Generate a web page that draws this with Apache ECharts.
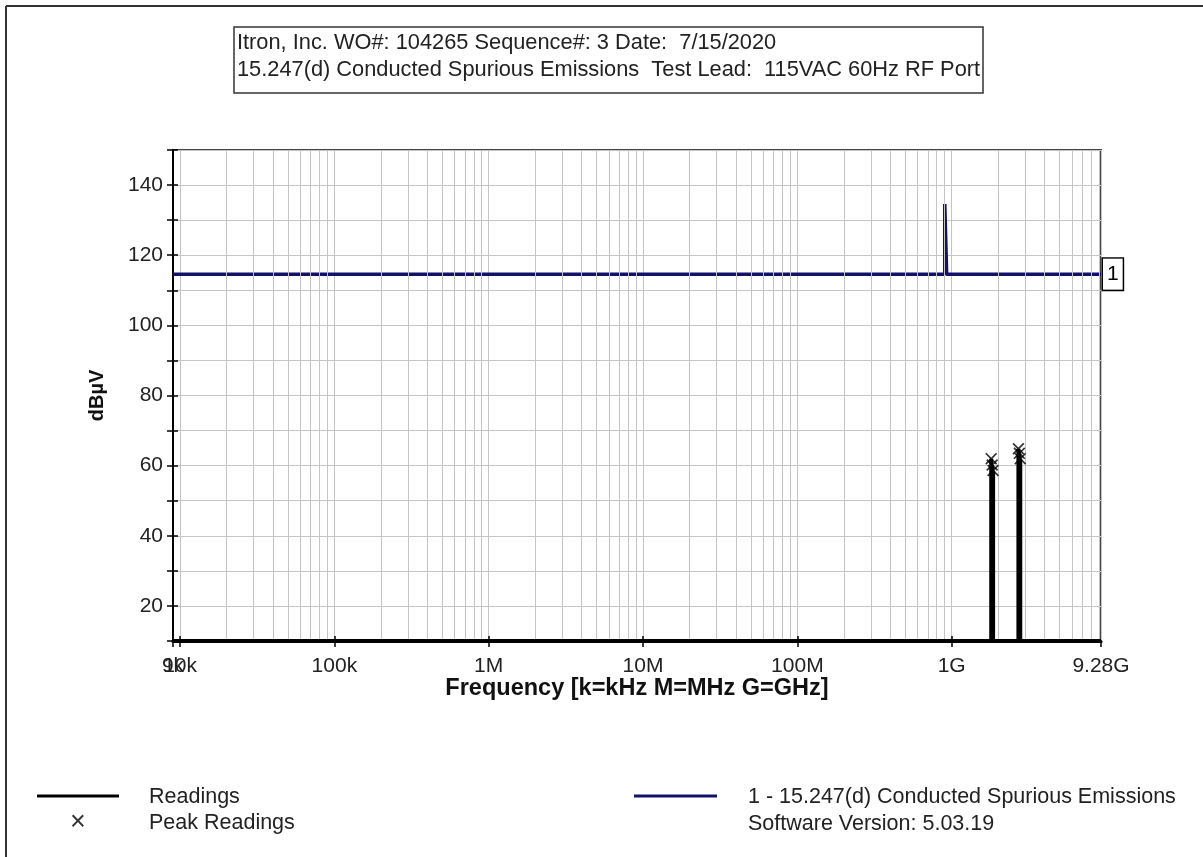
<!DOCTYPE html>
<html><head><meta charset="utf-8">
<script src="https://cdn.jsdelivr.net/npm/echarts@6/dist/echarts.min.js"></script>
<style>html,body{margin:0;padding:0;background:#fff}#c{width:1203px;height:857px}</style>
</head><body><div id="c"></div>
<script>
// ---- data ----
const titleLines = ['Itron, Inc. WO#: 104265 Sequence#: 3 Date:  7/15/2020',
                    '15.247(d) Conducted Spurious Emissions  Test Lead:  115VAC 60Hz RF Port'];
const xTickFreqs  = [9e3, 1e4, 1e5, 1e6, 1e7, 1e8, 1e9, 9.28e9];
const xTickLabels = ['9k', '10k', '100k', '1M', '10M', '100M', '1G', '9.28G'];
const yMin = 10, yMax = 150, yStep = 10;
const limitFreqs  = [9e3, 902e6, 902e6, 928e6, 928e6, 9.28e9];
const limitLevels = [114.6, 114.6, 134.6, 134.6, 114.6, 114.6];
const readingFreqs  = [1.804e9, 1.830e9, 1.855e9, 2.706e9, 2.745e9, 2.782e9];
const readingLevels = [62.0, 60.2, 58.6, 64.8, 63.5, 62.0];
const floorLevel = 10;
const legendNames = ['Readings', 'Peak Readings', '1 - 15.247(d) Conducted Spurious Emissions', 'Software Version: 5.03.19'];

// ---- build ----
const FONT = '"Liberation Sans", Arial, sans-serif';
const TXT = '#222';
const GRIDC = '#c4c4c4';
const NAVY = '#12126a';

const limitData = limitFreqs.map((f, i) => [f, limitLevels[i]]);
const readingsLine = [[xTickFreqs[0], floorLevel]];
readingFreqs.forEach((f, i) => { readingsLine.push([f, floorLevel], [f, readingLevels[i]], [f, floorLevel]); });
readingsLine.push([xTickFreqs[xTickFreqs.length - 1], floorLevel]);
const peakData = readingFreqs.map((f, i) => [f, readingLevels[i]]);

// minor log grid lines (2..9 x each decade)
const xMinV = xTickFreqs[0], xMaxV = xTickFreqs[xTickFreqs.length - 1];
const minorLines = [];
for (let d = 1e3; d <= 1e9; d *= 10) {
  for (let m = 2; m <= 9; m++) {
    const v = d * m;
    if (v > xMinV && v < xMaxV) minorLines.push({ xAxis: v });
  }
}

function labelIndex(v) {
  let best = 0, bd = Infinity;
  xTickFreqs.forEach((f, i) => { const d = Math.abs(Math.log10(f) - Math.log10(v)); if (d < bd) { bd = d; best = i; } });
  return bd < 0.01 ? best : -1;
}
// main axis: every label except 10k (which the second axis draws, overlapping like the original)
function xLabel(v) { const i = labelIndex(v); return (i < 0 || i === 1) ? '' : xTickLabels[i]; }
function xLabel2(v) { const i = labelIndex(v); return i === 1 ? xTickLabels[1] : ''; }

const axisFont = { fontFamily: FONT, fontSize: 21, color: TXT };

const chart = echarts.init(document.getElementById('c'), null, { renderer: 'canvas' });
chart.setOption({
  animation: false,
  backgroundColor: '#fff',
  title: {
    text: titleLines.join('\n'),
    left: 234, top: 27,
    padding: [2, 3, 10, 3],
    borderColor: '#333', borderWidth: 1.5,
    textStyle: { fontFamily: FONT, fontSize: 21.8, fontWeight: 'normal', color: TXT, lineHeight: 27 }
  },
  grid: { left: 173, right: 102, top: 150, bottom: 216, show: true, borderColor: '#444', borderWidth: 2 },
  xAxis: [{
    type: 'log', logBase: 10, min: xMinV, max: xMaxV, splitNumber: 6,
    name: 'Frequency [k=kHz M=MHz G=GHz]', nameLocation: 'middle', nameGap: 36, nameMoveOverlap: false,
    nameTextStyle: { fontFamily: FONT, fontSize: 23.5, fontWeight: 'bold', color: '#111' },
    axisLine: { show: true, onZero: false, lineStyle: { color: '#000', width: 3 } },
    axisTick: { show: true, length: 6, lineStyle: { color: '#000', width: 1.5 } },
    axisLabel: Object.assign({ margin: 15, formatter: xLabel, showMinLabel: true, showMaxLabel: true, hideOverlap: false }, axisFont),
    splitLine: { show: true, lineStyle: { color: GRIDC, width: 1 } },
    minorTick: { show: false }, minorSplitLine: { show: false }
  }, {
    type: 'log', logBase: 10, min: xMinV, max: xMaxV, splitNumber: 6, position: 'bottom', gridIndex: 0,
    axisLine: { show: false }, axisTick: { show: true, inside: true, length: 5, lineStyle: { color: '#000', width: 1.5 } },
    axisLabel: Object.assign({ margin: 15, formatter: xLabel2, showMinLabel: false, showMaxLabel: false, hideOverlap: false }, axisFont),
    splitLine: { show: false }
  }],
  yAxis: [{
    type: 'value', min: yMin, max: yMax, interval: yStep,
    name: 'dBµV', nameLocation: 'middle', nameGap: 66, nameRotate: 90, nameMoveOverlap: false,
    nameTextStyle: { fontFamily: FONT, fontSize: 20, fontWeight: 'bold', color: '#111' },
    axisLine: { show: true, lineStyle: { color: '#000', width: 2 } },
    axisTick: { show: true, length: 6, lineStyle: { color: '#000', width: 1.5 } },
    axisLabel: Object.assign({ margin: 10,
      formatter: v => (v % 20 === 0 && v !== yMin && v !== yMax) ? String(v) : '' }, axisFont),
    splitLine: { show: true, lineStyle: { color: GRIDC, width: 1 } }
  }, {
    type: 'value', min: yMin, max: yMax, interval: yStep, position: 'left', gridIndex: 0,
    axisLine: { show: false }, axisTick: { show: true, inside: true, length: 5, lineStyle: { color: '#000', width: 1.5 } },
    axisLabel: { show: false }, splitLine: { show: false }
  }],
  series: [
    {
      name: 'grid', type: 'line', data: [], z: 1, silent: true,
      markLine: { silent: true, symbol: ['none', 'none'], label: { show: false },
        lineStyle: { color: GRIDC, width: 1, type: 'solid' }, emphasis: { disabled: true }, data: minorLines }
    },
    {
      name: legendNames[2], type: 'line', data: limitData, showSymbol: false, z: 4,
      lineStyle: { color: NAVY, width: 3.5 }, itemStyle: { color: NAVY },
      endLabel: { show: true, formatter: '1', fontFamily: FONT, fontSize: 21, color: '#000',
        backgroundColor: '#fff', borderColor: '#000', borderWidth: 1.5, padding: [6, 4, 4, 4], distance: 2 }
    },
    {
      name: legendNames[0], type: 'line', data: readingsLine, showSymbol: false, z: 5, clip: true,
      lineStyle: { color: '#000', width: 4 }, itemStyle: { color: '#000' }
    },
    {
      name: legendNames[1], type: 'scatter', data: peakData, z: 6,
      symbol: 'path://M0,1L1,0L5,4L9,0L10,1L6,5L10,9L9,10L5,6L1,10L0,9L4,5Z', symbolSize: 12,
      itemStyle: { color: '#000' }
    }
  ],
  graphic: [
    { type: 'line', shape: { x1: 6, y1: 6, x2: 1203, y2: 6 }, style: { stroke: '#333', lineWidth: 2 }, silent: true },
    { type: 'line', shape: { x1: 6, y1: 6, x2: 6, y2: 857 }, style: { stroke: '#333', lineWidth: 2 }, silent: true },
    { type: 'line', shape: { x1: 37, y1: 796, x2: 119, y2: 796 }, style: { stroke: '#000', lineWidth: 3 }, silent: true },
    { type: 'text', x: 149, y: 797, style: { text: legendNames[0], font: '21.5px ' + FONT, fill: TXT, textVerticalAlign: 'middle' } },
    { type: 'text', x: 78, y: 823, style: { text: '×', font: '27px ' + FONT, fill: '#333', textAlign: 'center', textVerticalAlign: 'middle' } },
    { type: 'text', x: 149, y: 823, style: { text: legendNames[1], font: '21.5px ' + FONT, fill: TXT, textVerticalAlign: 'middle' } },
    { type: 'line', shape: { x1: 634, y1: 796, x2: 717, y2: 796 }, style: { stroke: NAVY, lineWidth: 3 }, silent: true },
    { type: 'text', x: 748, y: 797, style: { text: legendNames[2], font: '21.5px ' + FONT, fill: TXT, textVerticalAlign: 'middle' } },
    { type: 'text', x: 748, y: 824, style: { text: legendNames[3], font: '21.5px ' + FONT, fill: TXT, textVerticalAlign: 'middle' } }
  ]
});
</script></body></html>
